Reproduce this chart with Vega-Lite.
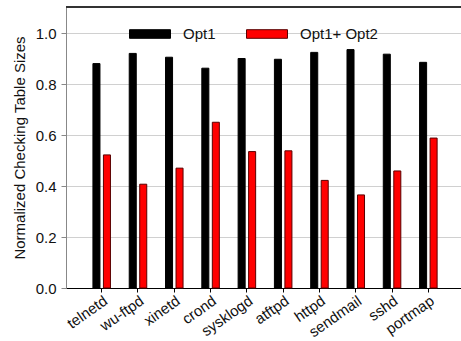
{
  "$schema": "https://vega.github.io/schema/vega-lite/v6.json",
  "autosize": {"type": "none"},
  "padding": {"left": 66, "top": 7, "right": 0, "bottom": 53},
  "width": 395,
  "height": 281,
  "config": {"font": "Liberation Sans", "view": {"stroke": null}},
  "data": {
    "values": [
      {"program": "telnetd", "series": "Opt1", "value": 0.88},
      {"program": "wu-ftpd", "series": "Opt1", "value": 0.92},
      {"program": "xinetd", "series": "Opt1", "value": 0.905},
      {"program": "crond", "series": "Opt1", "value": 0.862},
      {"program": "sysklogd", "series": "Opt1", "value": 0.9},
      {"program": "atftpd", "series": "Opt1", "value": 0.897},
      {"program": "httpd", "series": "Opt1", "value": 0.924},
      {"program": "sendmail", "series": "Opt1", "value": 0.935},
      {"program": "sshd", "series": "Opt1", "value": 0.917},
      {"program": "portmap", "series": "Opt1", "value": 0.885},
      {"program": "telnetd", "series": "Opt1+ Opt2", "value": 0.522},
      {"program": "wu-ftpd", "series": "Opt1+ Opt2", "value": 0.407},
      {"program": "xinetd", "series": "Opt1+ Opt2", "value": 0.47},
      {"program": "crond", "series": "Opt1+ Opt2", "value": 0.65},
      {"program": "sysklogd", "series": "Opt1+ Opt2", "value": 0.535},
      {"program": "atftpd", "series": "Opt1+ Opt2", "value": 0.538},
      {"program": "httpd", "series": "Opt1+ Opt2", "value": 0.422},
      {"program": "sendmail", "series": "Opt1+ Opt2", "value": 0.365},
      {"program": "sshd", "series": "Opt1+ Opt2", "value": 0.459},
      {"program": "portmap", "series": "Opt1+ Opt2", "value": 0.588}
    ]
  },
  "layer": [
    {
      "mark": {"type": "bar", "strokeWidth": 1},
      "encoding": {
        "x": {
          "field": "program",
          "type": "nominal",
          "sort": ["telnetd", "wu-ftpd", "xinetd", "crond", "sysklogd", "atftpd", "httpd", "sendmail", "sshd", "portmap"],
          "scale": {"paddingInner": 0.517, "paddingOuter": 0.7, "align": 0.53},
          "axis": {
            "title": null,
            "labelAngle": -35,
            "labelAlign": "right",
            "labelBaseline": "top",
            "labelFontSize": 15,
            "labelColor": "#111",
            "labelPadding": 1,
            "labelOverlap": false,
            "tickSize": 4,
            "tickColor": "#000",
            "domainColor": "#000",
            "grid": false
          }
        },
        "xOffset": {
          "field": "series",
          "type": "nominal",
          "sort": ["Opt1", "Opt1+ Opt2"],
          "scale": {"paddingInner": 0.33, "paddingOuter": 0}
        },
        "y": {
          "field": "value",
          "type": "quantitative",
          "scale": {"domain": [0, 1.102], "nice": false},
          "axis": {
            "values": [0, 0.2, 0.4, 0.6, 0.8, 1.0],
            "format": ".1f",
            "grid": true,
            "gridColor": "#d0d0d0",
            "domainColor": "#888",
            "tickColor": "#888",
            "tickSize": 5,
            "labelFontSize": 15,
            "labelColor": "#111",
            "labelPadding": 5,
            "title": "Normalized Checking Table Sizes",
            "titleFontSize": 15,
            "titleFontWeight": "normal",
            "titleColor": "#111",
            "titlePadding": 8
          }
        },
        "color": {
          "field": "series",
          "type": "nominal",
          "scale": {"domain": ["Opt1", "Opt1+ Opt2"], "range": ["#000000", "#ff0000"]},
          "legend": {
            "title": null,
            "orient": "none",
            "legendX": 63,
            "legendY": 6,
            "direction": "horizontal",
            "padding": 0,
            "symbolType": "M-1,-0.21H1V0.21H-1Z",
            "symbolSize": 1681,
            "symbolStrokeColor": "#300",
            "symbolStrokeWidth": 1,
            "labelOffset": 12,
            "columnPadding": 28,
            "labelFontSize": 15,
            "labelColor": "#111"
          }
        },
        "stroke": {
          "field": "series",
          "type": "nominal",
          "scale": {"domain": ["Opt1", "Opt1+ Opt2"], "range": ["#000000", "#5a0000"]},
          "legend": null
        }
      }
    },
    {
      "mark": {"type": "rule", "color": "#333", "strokeWidth": 1},
      "encoding": {"y": {"datum": 1.102}}
    }
  ]
}
